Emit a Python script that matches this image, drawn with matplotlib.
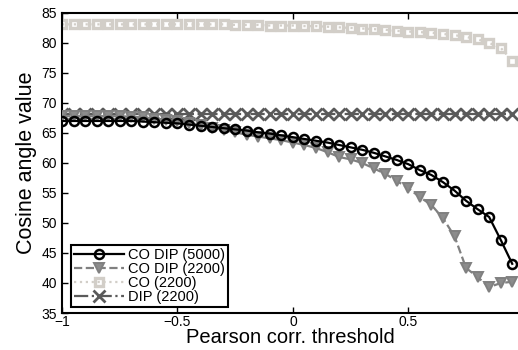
import numpy as np
import matplotlib
matplotlib.use("Agg")
import matplotlib.pyplot as plt

plt.rcParams['font.family'] = ['Liberation Sans', 'DejaVu Sans']

thresholds = np.round(np.arange(-1, 0.951, 0.05), 2)

co_dip_5000 = [67.0, 67.0, 67.0, 67.0, 67.0, 67.0, 67.0, 66.9, 66.8, 66.7,
               66.6, 66.4, 66.2, 66.0, 65.8, 65.6, 65.4, 65.1, 64.9, 64.6,
               64.3, 64.0, 63.7, 63.4, 63.0, 62.6, 62.2, 61.7, 61.1, 60.5,
               59.8, 58.8, 58.0, 56.8, 55.4, 53.7, 52.3, 51.0, 47.2, 43.2]
co_dip_2200 = [67.8, 67.8, 67.8, 67.8, 67.8, 67.8, 67.7, 67.6, 67.4, 67.2,
               67.0, 66.7, 66.3, 65.9, 65.5, 65.1, 64.7, 64.4, 64.1, 63.8,
               63.4, 63.0, 62.5, 61.8, 61.0, 60.6, 60.0, 59.1, 58.2, 57.0,
               55.8, 54.3, 53.0, 50.8, 47.8, 42.5, 41.0, 39.3, 40.0, 40.2]
co_2200 = [83.1, 83.1, 83.1, 83.1, 83.1, 83.1, 83.1, 83.1, 83.1, 83.1,
           83.1, 83.1, 83.1, 83.1, 83.1, 83.0, 83.0, 83.0, 82.9, 82.9,
           82.9, 82.8, 82.8, 82.7, 82.6, 82.5, 82.4, 82.3, 82.2, 82.0,
           81.9, 81.8, 81.7, 81.5, 81.3, 81.0, 80.6, 80.0, 79.2, 77.0]
dip_2200 = [68.1] * 40

fig = plt.figure(figsize=(5.18, 3.5), dpi=100)
ax = fig.add_axes([0.1197, 0.1057, 0.8803, 0.8573])

ax.plot(thresholds, co_dip_5000, '-o', color='black', lw=1.6, ms=6.5,
        mfc='none', mew=1.8, label='CO DIP (5000)', zorder=4)
ax.plot(thresholds, co_dip_2200, '--v', color='#808080', lw=1.6, ms=7.5,
        mfc='#8c8c8c', mew=1.4, label='CO DIP (2200)', zorder=3)
ax.plot(thresholds, co_2200, ':s', color='#d2cec8', lw=1.6, ms=6,
        mfc='none', mew=2.4, label='CO (2200)', zorder=2)
ax.plot(thresholds, dip_2200, '-.x', color='#5a5a5a', lw=1.6, ms=8,
        mew=2.0, label='DIP (2200)', zorder=2)

ax.set_xlim(-1, 0.975)
ax.set_ylim(35, 85)
ax.set_xticks([-1, -0.5, 0, 0.5])
ax.set_xticklabels(['\u22121', '\u22120.5', '0', '0.5'])
ax.set_yticks(range(35, 86, 5))
ax.tick_params(direction='in', top=True, labelsize=10, length=4, width=1)
ax.tick_params(axis='x', pad=1.5)
ax.spines['right'].set_visible(False)
for s in ['left', 'bottom', 'top']:
    ax.spines[s].set_linewidth(1.5)

ax.set_xlabel('Pearson corr. threshold', fontsize=14.5, labelpad=-1)
ax.set_ylabel('Cosine angle value', fontsize=15.5, labelpad=3)

leg = ax.legend(loc='lower left', bbox_to_anchor=(0.02, 0.02), fontsize=10.5,
                fancybox=False, framealpha=1, handlelength=3.4,
                borderpad=0.2, labelspacing=0.0, handletextpad=0.3,
                borderaxespad=0.0)
leg.get_frame().set_edgecolor('black')
leg.get_frame().set_linewidth(1.5)

fig.savefig('out.png', dpi=100)
